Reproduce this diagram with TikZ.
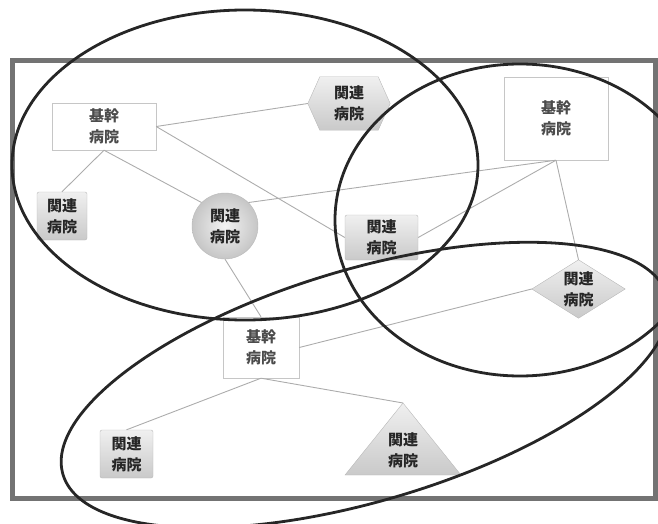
\documentclass[tikz,border=0pt]{standalone}
\usepackage{fontspec}
\newfontfamily\jp{Noto Sans CJK JP}
\usetikzlibrary{shapes.geometric}
\begin{document}
\begin{tikzpicture}[x=1pt,y=-1pt,
  kk/.style={rectangle, draw=gray!45, fill=white, text=gray!60!black, align=center, inner sep=0pt,
    font=\jp\bfseries\fontsize{15}{21}\selectfont},
  kr/.style={rectangle, draw=gray!55, rounded corners=2pt, top color=gray!12, bottom color=gray!42,
    text=black!85, align=center, inner sep=0pt, font=\jp\bfseries\fontsize{15}{21}\selectfont},
  krtext/.style={text=black!85, align=center, inner sep=0pt, font=\jp\bfseries\fontsize{15}{21}\selectfont},
  shapefill/.style={draw=gray!55, top color=gray!12, bottom color=gray!42},
  link/.style={draw=gray!65, line width=0.9pt},
  ring/.style={draw=black!85, line width=2.8pt},
  frame/.style={draw=black!55, line width=5pt}]
\useasboundingbox (0,0) rectangle (658,524);
% outer frame
\draw[frame] (12,61) rectangle (655,498);
% nodes
\node[kk, minimum width=104pt, minimum height=47pt] (tlk) at (104,126.5) {基幹\\病院};
\node[kk, minimum width=104pt, minimum height=83pt] (trk) at (556,118.5) {基幹\\病院};
\node[kk, minimum width=76pt, minimum height=61pt] (bk) at (261,347.5) {基幹\\病院};
\node[kr, minimum width=50pt, minimum height=48pt] (lk) at (62,216) {関連\\病院};
\node[kr, minimum width=73pt, minimum height=45pt] (mid) at (381.5,237.5) {関連\\病院};
\node[kr, minimum width=53pt, minimum height=48pt] (bl) at (126.5,454) {関連\\病院};
\node[circle, draw=gray!55, inner color=gray!10, outer color=gray!45, minimum size=66pt, krtext] (circ) at (225,226) {関連\\病院};
% hexagon
\node[minimum width=82pt, minimum height=53pt, inner sep=0pt] (hex) at (349,103.5) {};
\path[shapefill] (hex.west) -- ([xshift=12pt]hex.north west) -- ([xshift=-12pt]hex.north east)
  -- (hex.east) -- ([xshift=-12pt]hex.south east) -- ([xshift=12pt]hex.south west) -- cycle;
\node[krtext] at (hex) {関連\\病院};
% diamond
\node[minimum width=93pt, minimum height=58pt, inner sep=0pt] (dia) at (578.5,289) {};
\path[shapefill] (dia.west) -- (dia.north) -- (dia.east) -- (dia.south) -- cycle;
\node[krtext] at (dia) {関連\\病院};
% triangle
\coordinate (triapex) at (403,403);
\coordinate (tribl) at (345,475);
\coordinate (tribr) at (461,475);
\path[shapefill] (triapex) -- (tribr) -- (tribl) -- cycle;
\node[krtext] (tri) at (403,450) {関連\\病院};
% connectors
\draw[link] (tlk.east) -- (hex.west);
\draw[link] (tlk.east) -- (mid.west);
\draw[link] (tlk.south) -- (lk.north);
\draw[link] (tlk.south) -- (circ.135);
\draw[link] (circ.45) -- (trk.south);
\draw[link] (mid.east) -- (trk.south);
\draw[link] (trk.south) -- (dia.north);
\draw[link] (circ.south) -- (bk.north);
\draw[link] (bk.east) -- (dia.west);
\draw[link] (bk.south) -- (bl.north);
\draw[link] (bk.south) -- (triapex);
% rings
\draw[ring] (245,165) ellipse [x radius=233, y radius=155];
\draw[ring] (520,220) ellipse [x radius=185, y radius=156];
\draw[ring, rotate around={16.5:(365,385)}] (365,385) ellipse [x radius=315, y radius=116];
\end{tikzpicture}
\end{document}
